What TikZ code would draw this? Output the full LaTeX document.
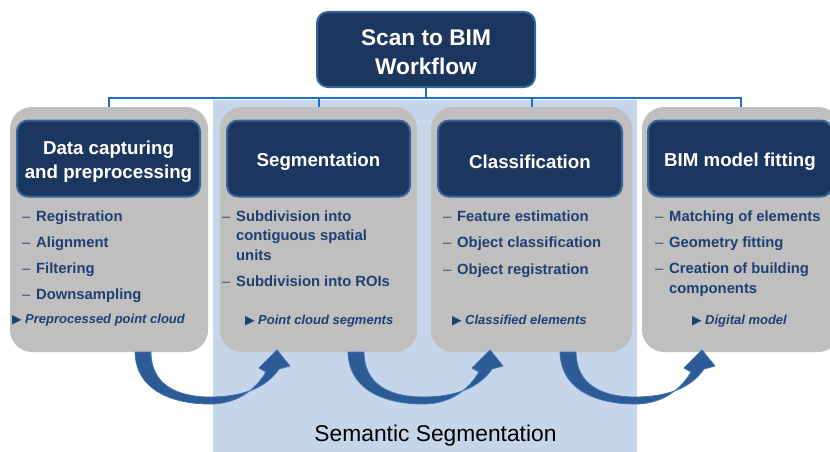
\documentclass[tikz,border=0pt]{standalone}
\usepackage{fontspec}
\setmainfont{Liberation Sans}
\newfontfamily\symfont{DejaVu Sans}
\definecolor{navy}{HTML}{1C375F}
\definecolor{navyedge}{HTML}{33659A}
\definecolor{itemblue}{HTML}{1F3F73}
\definecolor{boxgray}{HTML}{BFBFBF}
\definecolor{connblue}{HTML}{1E6FC8}
\definecolor{arrowblue}{HTML}{2D5B96}
\definecolor{arrowedge}{HTML}{3F72B3}
\definecolor{bgblue}{HTML}{C5D5EA}
\newcommand{\dm}{\makebox[14pt][l]{\mdseries\color{itemblue!80!gray}–}}
\newcommand{\tri}{\makebox[13pt][l]{\upshape\symfont\fontsize{12.5}{12.5}\selectfont ▶}}
\begin{document}
\begin{tikzpicture}[x=1pt,y=-1pt,
  gbox/.style={fill=boxgray, rounded corners=22pt, inner sep=0pt},
  hbox/.style={fill=navy, draw=navyedge, line width=2pt, rounded corners=11pt, inner sep=0pt},
  htext/.style={text=white, align=center, inner sep=0pt, font=\fontsize{18.7}{24}\selectfont\bfseries},
  item/.style={anchor=base west, inner sep=0pt, text=itemblue, font=\fontsize{14.8}{19.5}\selectfont\bfseries},
  res/.style={anchor=base west, inner sep=0pt, text=itemblue, font=\fontsize{13}{15}\selectfont\bfseries\itshape},
  conn/.style={draw=connblue, line width=2pt},
  bigarrow/.style={fill=arrowblue, draw=arrowedge, line width=0.8pt, line join=round}]
\useasboundingbox (0,0) rectangle (830,452);
\fill[bgblue] (213,100) rectangle (637,452);
% title
\node[hbox, minimum width=218pt, minimum height=75pt] (title) at (426,49.5) {};
\node[htext, font=\fontsize{22.7}{29}\selectfont\bfseries, yshift=-3pt] (titletext) at (title) {Scan to BIM\\Workflow};
% gray boxes
\node[gbox, minimum width=198pt, minimum height=245pt] (g1) at (109,229.5) {};
\node[gbox, minimum width=197pt, minimum height=245pt] (g2) at (318.5,229.5) {};
\node[gbox, minimum width=201pt, minimum height=245pt] (g3) at (531.5,229.5) {};
\node[gbox, minimum width=198pt, minimum height=245pt] (g4) at (741,229.5) {};
% connectors
\draw[conn] (title.south) -- ++(0,10) -| (g1.north);
\draw[conn] (title.south) -- ++(0,10) -| (g2.north);
\draw[conn] (title.south) -- ++(0,10) -| (g3.north);
\draw[conn] (title.south) -- ++(0,10) -| (g4.north);
% heading boxes
\node[hbox, minimum width=183pt, minimum height=76pt] (h1) at (108.5,158.5) {};
\node[hbox, minimum width=183pt, minimum height=76pt] (h2) at (318.5,158.5) {};
\node[hbox, minimum width=184pt, minimum height=76pt] (h3) at (530,158.5) {};
\node[hbox, minimum width=184pt, minimum height=76pt] (h4) at (740,158.5) {};
\node[htext, yshift=-3pt] (t1) at (h1) {Data capturing\\and preprocessing};
\node[htext, yshift=-3.5pt] (t2) at (h2) {Segmentation};
\node[htext, yshift=-3.5pt] (t3) at (h3) {Classification};
\node[htext, yshift=-3.5pt] (t4) at (h4) {BIM model fitting};
% box 1 list
\node[item] (a1) at (22,221) {\dm Registration};
\node[item] (a2) at (22,247) {\dm Alignment};
\node[item] (a3) at (22,273) {\dm Filtering};
\node[item] (a4) at (22,299) {\dm Downsampling};
\node[res] (ar) at (12,323.5) {\tri Preprocessed point cloud};
% box 2 list
\node[item] (b1) at (222,221) {\dm Subdivision into};
\node[item] (b1b) at (236,240.5) {contiguous spatial};
\node[item] (b1c) at (236,260) {units};
\node[item] (b2) at (222,286.5) {\dm Subdivision into ROIs};
\node[res] (br) at (245,324.5) {\tri Point cloud segments};
% box 3 list
\node[item] (c1) at (443,221.5) {\dm Feature estimation};
\node[item] (c2) at (443,247.5) {\dm Object classification};
\node[item] (c3) at (443,274) {\dm Object registration};
\node[res] (cr) at (452,324) {\tri Classified elements};
% box 4 list
\node[item] (d1) at (655,221.5) {\dm Matching of elements};
\node[item] (d2) at (655,247.5) {\dm Geometry fitting};
\node[item] (d3) at (655,273.5) {\dm Creation of building};
\node[item] (d3b) at (669,293.5) {components};
\node[res] (dr) at (692,324) {\tri Digital model};
% curved arrows
\foreach \o in {0,213,425}{
  \begin{scope}[shift={(\o,0)}]
  \draw[bigarrow] (135,352) .. controls (136,392) and (175,404) .. (210,404)
    .. controls (238,404) and (256,389) .. (266,372)
    -- (259,368) -- (277,350) -- (290,366) -- (279,369)
    .. controls (266,388) and (242,397) .. (210,397)
    .. controls (176,397) and (151,384) .. (151,352) -- cycle;
  \end{scope}
}
\node[anchor=base, inner sep=0pt, font=\fontsize{22.8}{27}\selectfont] (sem) at (435.5,441.5) {Semantic Segmentation};
\end{tikzpicture}
\end{document}
